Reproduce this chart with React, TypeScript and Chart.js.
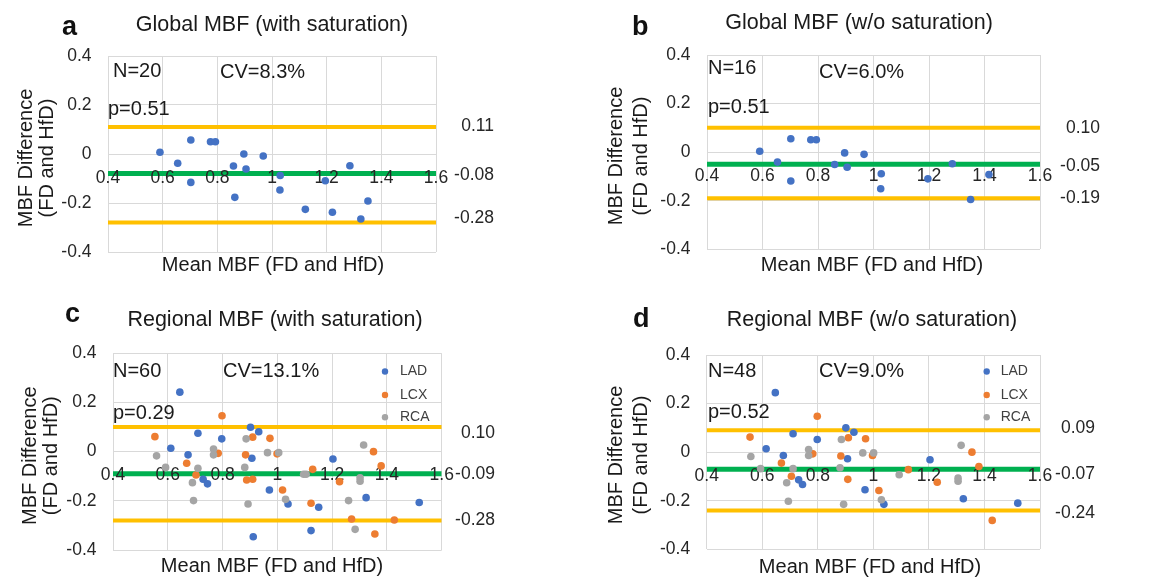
import { useEffect, useRef } from "react";
import { Chart, registerables } from "chart.js";

Chart.register(...registerables);

const FONT = "'Liberation Sans', Arial, Helvetica, sans-serif";
const BLUE = "#4472C4";
const ORANGE = "#ED7D31";
const GRAY = "#A5A5A5";
const YELLOW = "#FFC000";
const GREEN = "#00B050";

// ---------- axes ----------
const xTicks = [0.4, 0.6, 0.8, 1, 1.2, 1.4, 1.6];
const xTickLabels = ["0.4", "0.6", "0.8", "1", "1.2", "1.4", "1.6"];
const yTicks = [0.4, 0.2, 0, -0.2, -0.4];
const yTickLabels = ["0.4", "0.2", "0", "-0.2", "-0.4"];
const xRange = [0.4, 1.6];
const yRange = [-0.4, 0.4];

// ---------- panel a: Global MBF (with saturation) ----------
const aX = [0.590, 0.655, 0.703, 0.703, 0.775, 0.793, 0.859, 0.864, 0.897, 0.905, 0.968, 1.030, 1.029, 1.122, 1.195, 1.221, 1.285, 1.325, 1.351];
const aY = [0.007, -0.038, 0.057, -0.116, 0.050, 0.050, -0.049, -0.177, 0.000, -0.061, -0.008, -0.088, -0.147, -0.226, -0.109, -0.238, -0.048, -0.265, -0.192];
const aLimits = [0.11, -0.08, -0.28];
const aLimitLabels = ["0.11", "-0.08", "-0.28"];
const aStats = ["N=20", "CV=8.3%", "p=0.51"];

// ---------- panel b: Global MBF (w/o saturation) ----------
const bX = [0.590, 0.654, 0.702, 0.702, 0.774, 0.794, 0.860, 0.896, 0.905, 0.966, 1.028, 1.026, 1.196, 1.284, 1.416, 1.350];
const bY = [0.004, -0.041, 0.055, -0.119, 0.051, 0.051, -0.051, -0.003, -0.062, -0.009, -0.089, -0.151, -0.110, -0.048, -0.092, -0.195];
const bLimits = [0.10, -0.05, -0.19];
const bLimitLabels = ["0.10", "-0.05", "-0.19"];
const bStats = ["N=16", "CV=6.0%", "p=0.51"];

// ---------- panel c: Regional MBF (with saturation) ----------
const cLadX = [0.644, 0.611, 0.674, 0.710, 0.729, 0.745, 0.797, 0.902, 0.932, 0.907, 0.971, 0.912, 1.039, 1.123, 1.151, 1.203, 1.324, 1.518];
const cLadY = [0.242, 0.014, -0.013, 0.075, -0.112, -0.131, 0.052, 0.099, 0.081, -0.027, -0.156, -0.346, -0.213, -0.321, -0.226, -0.030, -0.187, -0.207];
const cLcxX = [0.553, 0.669, 0.703, 0.798, 0.784, 0.884, 0.888, 0.910, 0.910, 0.973, 0.999, 1.019, 1.129, 1.123, 1.227, 1.271, 1.351, 1.379, 1.356, 1.427];
const cLcxY = [0.061, -0.047, -0.095, 0.146, -0.007, -0.013, -0.115, -0.112, 0.059, 0.054, -0.009, -0.156, -0.072, -0.210, -0.122, -0.274, 0.000, -0.058, -0.335, -0.278];
const cRcaX = [0.559, 0.592, 0.690, 0.694, 0.710, 0.767, 0.767, 0.886, 0.881, 0.893, 0.964, 1.005, 1.030, 1.096, 1.105, 1.260, 1.284, 1.302, 1.302, 1.315];
const cRcaY = [-0.017, -0.064, -0.126, -0.199, -0.068, 0.011, -0.013, 0.052, -0.064, -0.213, -0.004, -0.004, -0.194, -0.092, -0.092, -0.199, -0.316, -0.106, -0.120, 0.027];
const cLimits = [0.10, -0.09, -0.28];
const cLimitLabels = ["0.10", "-0.09", "-0.28"];
const cStats = ["N=60", "CV=13.1%", "p=0.29"];

// ---------- panel d: Regional MBF (w/o saturation) ----------
const dLadX = [0.647, 0.614, 0.676, 0.711, 0.731, 0.745, 0.798, 0.901, 0.930, 0.907, 0.970, 1.038, 1.204, 1.324, 1.520];
const dLadY = [0.245, 0.014, -0.014, 0.076, -0.114, -0.133, 0.052, 0.100, 0.082, -0.027, -0.155, -0.215, -0.031, -0.192, -0.210];
const dLcxX = [0.556, 0.669, 0.705, 0.798, 0.782, 0.883, 0.908, 0.910, 0.972, 0.997, 1.020, 1.126, 1.230, 1.355, 1.380, 1.428];
const dLcxY = [0.062, -0.045, -0.099, 0.148, -0.007, -0.016, -0.112, 0.059, 0.055, -0.014, -0.158, -0.072, -0.124, 0.000, -0.059, -0.281];
const dRcaX = [0.559, 0.594, 0.688, 0.694, 0.711, 0.767, 0.767, 0.885, 0.880, 0.893, 0.962, 1.001, 1.029, 1.093, 1.305, 1.305, 1.316];
const dRcaY = [-0.018, -0.068, -0.126, -0.202, -0.068, 0.011, -0.014, 0.052, -0.064, -0.215, -0.003, -0.003, -0.196, -0.093, -0.107, -0.120, 0.028];
const dLimits = [0.09, -0.07, -0.24];
const dLimitLabels = ["0.09", "-0.07", "-0.24"];
const dStats = ["N=48", "CV=9.0%", "p=0.52"];

const yTitleLines = ["MBF Difference", "(FD and HfD)"];
const xTitle = "Mean MBF (FD and HfD)";

type Series = { label: string; xs: number[]; ys: number[]; color: string };
type Layout = {
  box: { left: number; top: number; width: number; height: number };
  area: { l: number; r: number; t: number; b: number };
  letter: [number, number];
  title: [number, number];
  stats: [number, number][];
  xTitle: [number, number];
  yTitleX: [number, number];
  yTitleY: number;
  limitRight: number;
  limitDy: number[];
  legendMarkX?: number;
  legendTextX?: number;
  legendY?: number[];
};
type PanelDef = {
  letter: string;
  title: string;
  stats: string[];
  series: Series[];
  limits: number[];
  limitLabels: string[];
  legend: boolean;
  layout: Layout;
};

const panels: PanelDef[] = [
  {
    letter: "a",
    title: "Global MBF (with saturation)",
    stats: aStats,
    series: [{ label: "Global", xs: aX, ys: aY, color: BLUE }],
    limits: aLimits,
    limitLabels: aLimitLabels,
    legend: false,
    layout: {
      box: { left: 0, top: 0, width: 575, height: 290 },
      area: { l: 108, r: 436, t: 56, b: 252 },
      letter: [62, 35],
      title: [272, 25],
      stats: [[113, 71], [220, 72], [108, 109]],
      xTitle: [273, 265],
      yTitleX: [26, 47],
      yTitleY: 158,
      limitRight: 494,
      limitDy: [-1, 2, -4],
    },
  },
  {
    letter: "b",
    title: "Global MBF (w/o saturation)",
    stats: bStats,
    series: [{ label: "Global", xs: bX, ys: bY, color: BLUE }],
    limits: bLimits,
    limitLabels: bLimitLabels,
    legend: false,
    layout: {
      box: { left: 575, top: 0, width: 576, height: 290 },
      area: { l: 707, r: 1040, t: 55, b: 249.3 },
      letter: [632, 35],
      title: [859, 23],
      stats: [[708, 68], [819, 72], [708, 107.3]],
      xTitle: [872, 265],
      yTitleX: [616, 641],
      yTitleY: 156,
      limitRight: 1100,
      limitDy: [0, 2, 0],
    },
  },
  {
    letter: "c",
    title: "Regional MBF (with saturation)",
    stats: cStats,
    series: [
      { label: "LAD", xs: cLadX, ys: cLadY, color: BLUE },
      { label: "LCX", xs: cLcxX, ys: cLcxY, color: ORANGE },
      { label: "RCA", xs: cRcaX, ys: cRcaY, color: GRAY },
    ],
    limits: cLimits,
    limitLabels: cLimitLabels,
    legend: true,
    layout: {
      box: { left: 0, top: 290, width: 575, height: 289 },
      area: { l: 113, r: 441.7, t: 353.3, b: 550 },
      letter: [65, 321.7],
      title: [275, 320],
      stats: [[113, 371], [223, 371], [113, 413.3]],
      xTitle: [272, 566.5],
      yTitleX: [30, 51],
      yTitleY: 455.7,
      limitRight: 495,
      limitDy: [6, 0, 0],
      legendMarkX: 385,
      legendTextX: 400,
      legendY: [371.5, 395, 417.3],
    },
  },
  {
    letter: "d",
    title: "Regional MBF (w/o saturation)",
    stats: dStats,
    series: [
      { label: "LAD", xs: dLadX, ys: dLadY, color: BLUE },
      { label: "LCX", xs: dLcxX, ys: dLcxY, color: ORANGE },
      { label: "RCA", xs: dRcaX, ys: dRcaY, color: GRAY },
    ],
    limits: dLimits,
    limitLabels: dLimitLabels,
    legend: true,
    layout: {
      box: { left: 575, top: 290, width: 576, height: 289 },
      area: { l: 706.7, r: 1040, t: 355, b: 549.3 },
      letter: [633, 326.7],
      title: [872, 320],
      stats: [[708, 371], [819, 371], [708, 412.3]],
      xTitle: [870, 567],
      yTitleX: [616, 641],
      yTitleY: 455,
      limitRight: 1095,
      limitDy: [-2, 5, 3],
      legendMarkX: 986.7,
      legendTextX: 1000.7,
      legendY: [371.5, 395, 417.3],
    },
  },
];

function makeOverlay(p: PanelDef) {
  const L = p.layout;
  const ox = L.box.left;
  const oy = L.box.top;
  return {
    id: "overlay" + p.letter,
    afterDatasetDraw(chart: any, args: any) {
      const ds = chart.data.datasets[args.index];
      if (ds.label !== "Mean") return;
      const { ctx, scales } = chart;
      const x = scales.x;
      const y = scales.y;
      ctx.save();
      ctx.font = `17.5px ${FONT}`;
      ctx.fillStyle = "#262626";
      ctx.textAlign = "center";
      ctx.textBaseline = "middle";
      const yy = y.getPixelForValue(0) + 24;
      xTicks.forEach((v, i) => ctx.fillText(xTickLabels[i], x.getPixelForValue(v), yy));
      ctx.restore();
    },
    afterDraw(chart: any) {
      const { ctx, scales, chartArea } = chart;
      const y = scales.y;
      ctx.save();
      // y ticks
      ctx.font = `17.5px ${FONT}`;
      ctx.fillStyle = "#262626";
      ctx.textAlign = "right";
      ctx.textBaseline = "middle";
      yTicks.forEach((v, i) => ctx.fillText(yTickLabels[i], chartArea.left - 16.5, y.getPixelForValue(v)));
      // panel letter
      ctx.font = `bold 27px ${FONT}`;
      ctx.fillStyle = "#111111";
      ctx.textAlign = "left";
      ctx.textBaseline = "alphabetic";
      ctx.fillText(p.letter, L.letter[0] - ox, L.letter[1] - oy);
      // title
      ctx.font = `21.5px ${FONT}`;
      ctx.fillStyle = "#1a1a1a";
      ctx.textAlign = "center";
      ctx.textBaseline = "middle";
      ctx.fillText(p.title, L.title[0] - ox, L.title[1] - oy);
      // stats
      ctx.font = `20px ${FONT}`;
      ctx.textAlign = "left";
      p.stats.forEach((s, i) => ctx.fillText(s, L.stats[i][0] - ox, L.stats[i][1] - oy));
      // x title
      ctx.textAlign = "center";
      ctx.fillText(xTitle, L.xTitle[0] - ox, L.xTitle[1] - oy);
      // y title
      yTitleLines.forEach((line, i) => {
        ctx.save();
        ctx.translate(L.yTitleX[i] - ox, L.yTitleY - oy);
        ctx.rotate(-Math.PI / 2);
        ctx.fillText(line, 0, 0);
        ctx.restore();
      });
      // limit labels
      ctx.font = `17.5px ${FONT}`;
      ctx.fillStyle = "#262626";
      ctx.textAlign = "right";
      p.limits.forEach((v, i) =>
        ctx.fillText(p.limitLabels[i], L.limitRight - ox, y.getPixelForValue(v) + L.limitDy[i])
      );
      // legend
      if (p.legend && L.legendY) {
        ctx.font = `14px ${FONT}`;
        p.series.forEach((s, i) => {
          const ly = L.legendY![i] - oy;
          ctx.fillStyle = s.color;
          ctx.beginPath();
          ctx.arc(L.legendMarkX! - ox, ly, 3.2, 0, Math.PI * 2);
          ctx.fill();
          ctx.fillStyle = "#404040";
          ctx.textAlign = "left";
          ctx.fillText(s.label, L.legendTextX! - ox, ly);
        });
      }
      ctx.restore();
    },
  };
}

function Panel({ p }: { p: PanelDef }) {
  const ref = useRef<HTMLCanvasElement | null>(null);
  useEffect(() => {
    if (!ref.current) return;
    const L = p.layout;
    const pad = {
      left: L.area.l - L.box.left,
      right: L.box.left + L.box.width - L.area.r,
      top: L.area.t - L.box.top,
      bottom: L.box.top + L.box.height - L.area.b,
    };
    const lineSet = (label: string, v: number, color: string, width: number, order: number) => ({
      label,
      data: [
        { x: xRange[0], y: v },
        { x: xRange[1], y: v },
      ],
      showLine: true,
      borderColor: color,
      backgroundColor: color,
      borderWidth: width,
      pointRadius: 0,
      pointHoverRadius: 0,
      order,
    });
    const pointSets = p.series.map((s, i) => ({
      label: s.label,
      data: s.xs.map((xv, k) => ({ x: xv, y: s.ys[k] })),
      backgroundColor: s.color,
      borderColor: s.color,
      borderWidth: 0,
      pointRadius: 3.8,
      pointHoverRadius: 3.8,
      order: 3 - i,
    }));
    const datasets: any[] = [
      ...pointSets,
      lineSet("Upper", p.limits[0], YELLOW, 4, 10),
      lineSet("Lower", p.limits[2], YELLOW, 4, 9),
      lineSet("Mean", p.limits[1], GREEN, 5, 8),
    ];
    const grid = { color: "#D9D9D9", lineWidth: 1, drawTicks: false };
    const chart = new Chart(ref.current, {
      type: "scatter",
      data: { datasets },
      options: {
        responsive: false,
        animation: false,
        events: [],
        layout: { padding: pad },
        plugins: { legend: { display: false }, tooltip: { enabled: false } },
        scales: {
          x: {
            type: "linear",
            min: xRange[0],
            max: xRange[1],
            ticks: { display: false, stepSize: 0.2 },
            grid,
            border: { display: false },
          },
          y: {
            type: "linear",
            min: yRange[0],
            max: yRange[1],
            ticks: { display: false, stepSize: 0.2 },
            grid,
            border: { display: false },
          },
        },
      },
      plugins: [makeOverlay(p)],
    });
    return () => chart.destroy();
  }, [p]);
  const b = p.layout.box;
  return (
    <canvas
      ref={ref}
      width={b.width}
      height={b.height}
      style={{ position: "absolute", left: b.left, top: b.top, width: b.width, height: b.height }}
    />
  );
}

export default function App() {
  return (
    <div style={{ position: "absolute", left: 0, top: 0, width: 1151, height: 579, background: "#ffffff", overflow: "hidden" }}>
      {panels.map((p) => (
        <Panel key={p.letter} p={p} />
      ))}
    </div>
  );
}
